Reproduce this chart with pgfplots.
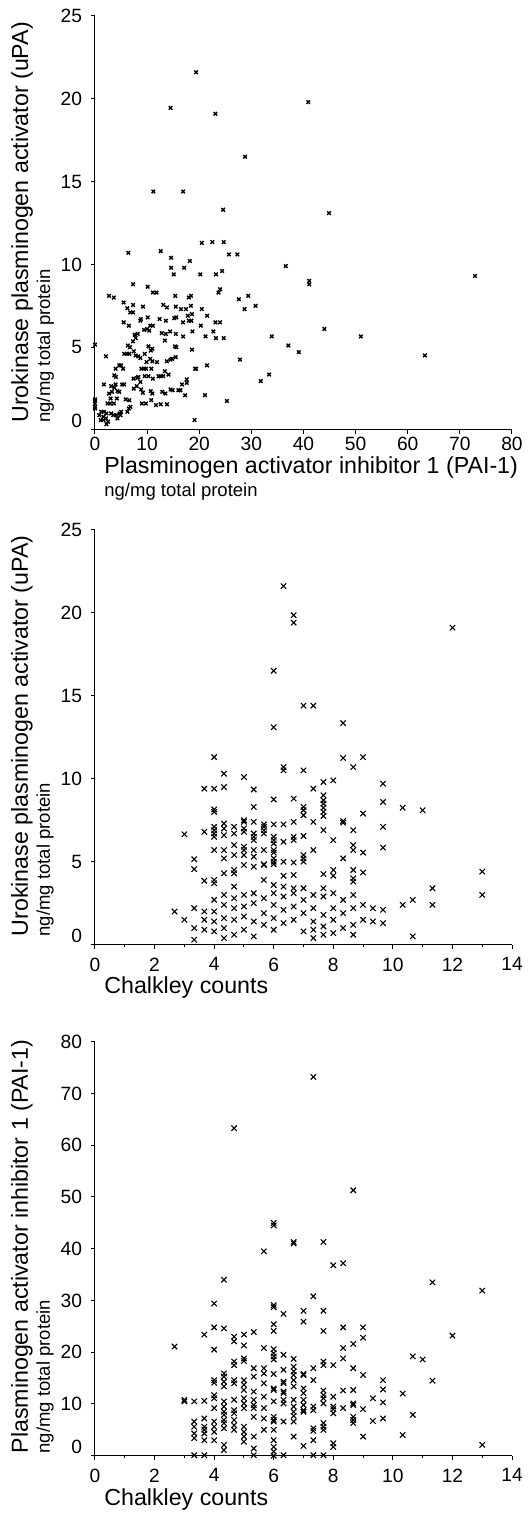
\documentclass[border=0pt]{standalone}
\usepackage{fontspec}
\setmainfont{Liberation Sans}
\usepackage{pgfplots}
\pgfplotsset{compat=1.18}

\newcommand\lblfont{\fontsize{11.6}{13}\selectfont}
\newcommand\subfont{\fontsize{9.25}{11}\selectfont}
\newcommand\tickfont{\fontsize{9.6}{11}\selectfont}
\newcommand\zero{\raisebox{4.5pt}[\height][\depth]{0}}

\pgfplotsset{
  panel/.style={
    scale only axis, width=208.5pt, height=207pt,
    axis x line=bottom, axis y line=left,
    axis line style={-, line width=0.5pt},
    tick align=outside, major tick length=2pt, minor tick length=1.3pt,
    tick style={black, line width=0.5pt},
    clip=false,
    ticklabel style={font=\tickfont},
    xticklabel style={inner sep=1.5pt},
    yticklabel style={inner sep=4.3pt},
    /pgf/number format/assume math mode=true,
  },
  pts/.style={only marks, mark=x, mark size=1.25pt, mark options={line width=0.7pt}, black},
  bigpts/.style={only marks, mark=x, mark size=1.9pt, mark options={line width=0.55pt}, black},
}

\begin{document}
\begin{tikzpicture}
\useasboundingbox (-47.5pt,-541.5pt) rectangle (218pt,215pt);

% ---- panel 1: uPA vs PAI-1
\begin{axis}[panel, at={(0pt,0pt)}, anchor=south west,
  xmin=0, xmax=80, ymin=0, ymax=25,
  xtick={0,10,...,80}, ytick={0,5,...,25},
  yticklabels={\zero,5,10,15,20,25}]
\addplot[pts] coordinates {
(19.4,21.6) (14.5,19.45) (23.1,19.1) (28.8,16.5) (11.2,14.4) (16.9,14.4) (24.6,13.3) (40.9,19.8) (44.9,13.1)
(36.6,9.9) (41.1,9.0) (41.1,8.8) (72.9,9.3) (33.9,5.65) (37.1,5.1) (39.1,4.7) (44.0,6.1) (51.0,5.65) (63.3,4.5) (33.4,3.35) (31.8,2.95)
(20.5,11.3) (22.5,11.35) (24.7,11.35) (25.7,10.6) (27.3,10.6) (6.4,10.7) (12.6,10.8) (14.6,10.4) (14.6,9.8) (15.1,9.4)
(17.1,9.8) (18.2,10.2) (20.2,9.4) (23.2,9.4) (24.4,9.6) (7.3,8.8) (10.1,8.65) (11.1,8.3) (11.8,8.3) (23.7,8.3) (24.0,8.5)
(27.6,7.9) (29.4,8.1) (28.7,7.3) (30.8,7.5) (2.7,8.1) (3.6,8.0) (5.5,7.7) (15.4,8.1) (18.0,8.0) (18.4,8.1)
(6.2,7.35) (7.3,7.55) (7.3,7.1) (6.75,7.1) (9.2,7.45) (13.1,7.55) (13.8,7.4) (15.5,7.45) (16.5,7.3) (17.45,7.3)
(18.4,7.5) (20.5,7.3) (21.5,6.9) (17.8,6.9) (18.6,7.0)
(5.5,6.5) (6.5,6.3) (8.8,6.7) (8.7,6.6) (10.1,6.8) (10.6,6.3) (11.1,6.3) (12.4,6.7) (13.6,6.6) (15.2,6.75) (15.6,6.8)
(16.9,6.5) (18.0,6.6) (18.5,6.6) (20.3,6.3) (23.1,6.5) (24.0,6.5)
(9.4,6.05) (10.0,6.1) (10.4,6.0) (8.2,5.8) (7.6,5.75) (12.8,5.85) (13.6,5.8) (14.4,5.95) (15.5,5.8) (16.9,5.65)
(18.7,5.95) (21.2,5.65) (22.7,5.95) (23.2,5.55) (24.7,5.55)
(7.8,5.55) (7.3,5.35) (6.3,5.1) (6.7,5.0) (10.25,5.05) (10.7,4.8) (11.0,4.9) (13.4,5.4) (15.35,5.05) (15.6,5.0) (18.6,4.85) (7.45,4.75)
(5.6,4.6) (6.1,4.6) (6.6,4.6) (7.8,4.5) (8.3,4.45) (8.7,4.35) (9.55,4.6) (9.9,4.1) (10.6,4.3) (11.0,4.15) (11.9,4.1)
(13.8,4.15) (14.5,4.25) (14.8,4.3) (15.5,4.4) (27.8,4.25) (2.1,4.45)
(4.65,3.9) (5.0,3.9) (3.95,3.7) (5.4,3.7) (8.9,3.7) (9.4,3.7) (9.8,3.7) (10.8,3.7) (13.4,3.55) (19.2,3.7) (19.4,3.7) (21.5,3.9)
(3.7,3.3) (4.0,3.2) (7.4,3.1) (8.1,3.15) (8.3,3.2) (9.55,3.25) (10.25,3.25) (11.1,3.1) (12.2,3.25) (12.6,3.25) (13.1,3.25) (14.1,3.35)
(1.7,2.75) (3.1,2.65) (3.95,2.75) (5.2,2.75) (5.6,2.75) (8.7,2.9) (8.0,2.65) (16.7,2.75) (17.6,3.05) (17.6,2.85)
(3.7,2.55) (4.3,2.35) (4.65,2.3) (2.7,2.2) (3.25,2.3) (7.45,2.5) (8.85,2.45) (9.2,2.25) (10.7,2.35) (11.0,2.2)
(12.9,2.3) (13.5,2.2) (14.5,2.45) (14.9,2.4) (16.0,2.4) (16.4,2.4) (17.3,2.1) (21.1,2.1)
(0,1.85) (0,1.75) (0,1.6) (2.4,1.6) (2.9,1.6) (3.6,1.6) (3.0,1.9) (4.2,1.9) (5.9,1.85) (6.6,1.8) (9.0,1.6) (9.75,1.6)
(10.8,1.8) (11.7,1.5) (12.6,1.55) (13.8,1.55) (25.3,1.75)
(0,1.4) (0,1.3) (1.2,1.1) (1.7,1.1) (0.8,0.9) (1.6,0.8) (2.2,1.0) (2.1,0.7) (3.1,1.0) (3.5,0.9) (4.1,0.9) (4.7,1.0)
(5.0,1.1) (4.9,0.9) (4.3,0.7) (6.5,1.3) (6.8,1.4) (6.2,1.1) (19.1,0.6) (1.1,0.6) (1.6,0.6) (2.2,0.35) (2.5,0.5) (0,5.15)
};
\node[anchor=base west, font=\lblfont, inner sep=0] at ([shift={(4.5pt,-22pt)}]rel axis cs:0,0) {Plasminogen activator inhibitor 1 (PAI-1)};
\node[anchor=base west, font=\subfont, inner sep=0] at ([shift={(4.5pt,-33.5pt)}]rel axis cs:0,0) {ng/mg total protein};
\node[rotate=90, anchor=base west, font=\lblfont, inner sep=0] at ([shift={(-33.5pt,3.5pt)}]rel axis cs:0,0) {Urokinase plasminogen activator (uPA)};
\node[rotate=90, anchor=base west, font=\subfont, inner sep=0] at ([shift={(-22.5pt,3.5pt)}]rel axis cs:0,0) {ng/mg total protein};
\end{axis}

% ---- panel 2: uPA vs Chalkley counts
\begin{axis}[panel, at={(0pt,-257.35pt)}, anchor=south west, height=207.5pt,
  xmin=0, xmax=14, ymin=0, ymax=25,
  xtick={0,2,...,14}, minor x tick num=1, ytick={0,5,...,25},
  yticklabels={\zero,5,10,15,20,25},
  xticklabel style={inner sep=4.3pt}]
\addplot[bigpts] coordinates {
(6.33,21.6) (6.67,19.85) (6.67,19.4) (12,19.1) (6,16.5)
(7,14.4) (7.33,14.4) (6,13.1) (8.33,13.35) (8.33,11.25) (9,11.3) (8.67,10.7) (6.33,10.7) (6.33,10.5) (7,10.5)
(7.33,9.4) (7.67,9.8) (8,9.9) (9.67,9.7) (6,8.75) (6.67,8.8) (7.67,9.0) (9.67,8.6) (10.33,8.25) (11,8.1)
(7,8.3) (7,8.1) (7,7.8) (7.67,8.7) (7.67,8.5) (7.67,8.25) (7.67,8.0) (7.67,7.75) (9,7.9) (8.33,7.45) (8.33,7.35)
(7.33,7.4) (6.67,7.4) (6,7.25) (6.33,7.25) (5.67,7.25) (5.67,6.9) (5.67,6.7) (7.67,6.9) (8.67,6.9) (9.67,7.1)
(7,6.55) (6.67,6.5) (6.67,6.3) (6,6.5) (6,6.3) (6,6.1) (6.33,6.2) (8,6.3) (8.67,6.0) (8.67,5.7) (7.33,5.7) (9,5.55)
(9.67,5.85) (5.67,5.7) (6,5.7) (6,5.55) (6,5.2) (6,5.0) (6,4.85) (6.33,5.0) (6.67,4.95) (7,5.4) (7,5.2) (7,5.0)
(8.33,5.2) (5.67,4.85) (7.67,4.25) (8,4.5) (8,4.15) (8.67,4.5) (8.67,4.0) (8.67,3.8) (9,4.35) (6.33,4.15) (6.67,4.2)
(6,3.6) (6.33,3.5) (6.67,3.4) (7,3.4) (7.67,3.4) (5.67,3.9) (13,4.4) (11.33,3.4)
(4,11.3) (4.33,10.3) (5,10.1) (3.67,9.4) (4,9.4) (4.33,9.5) (5.33,9.35) (4,8.15) (4,8.0) (5.33,8.3) (3,6.65) (3.67,6.8)
(4,7.1) (4,6.9) (4,6.7) (4,6.5) (4.33,7.3) (4.33,7.0) (4.33,6.6) (4.67,7.1) (4.67,6.7) (5,7.5) (5,7.4) (5,7.0) (5,6.8)
(5.33,7.4) (5.33,6.7) (5.33,6.5) (5.33,6.3) (5.67,7.1)
(4,5.7) (4.33,5.7) (4.33,5.2) (4.33,4.3) (4.67,6.0) (4.67,5.4) (4.67,4.5) (4.67,4.3) (5,5.9) (5,5.7) (5,5.4) (5,4.8)
(5.33,5.7) (5.33,5.3) (5.33,4.7) (5.67,4.8) (3.33,5.15) (3.33,4.55) (3.67,3.85) (4,3.9) (4,3.7) (4.67,3.5)
(2.67,2.0) (3,1.5) (3.33,2.2) (3.33,1.0) (3.33,0.3) (3.67,2.0) (3.67,1.5) (3.67,0.9) (4,2.7) (4,2.0) (4,1.4) (4,0.8)
(4.33,3.0) (4.33,2.4) (4.33,1.6) (4.33,1.0) (4.33,0.4) (4.67,2.8) (4.67,2.2) (4.67,1.5) (4.67,0.6) (5,3.0) (5,2.3)
(5,1.7) (5,0.9) (5.33,3.1) (5.33,2.5) (5.33,1.4) (5.33,0.5) (5.67,2.8) (5.67,1.9) (5.67,1.2) (6,3.1) (6,2.4) (6,1.6)
(6,0.9) (6.33,2.9) (6.33,2.1) (6.33,1.3) (6.67,3.1) (6.67,2.3) (6.67,1.5) (7,2.7) (7,1.9) (7,0.8) (7.33,3.0) (7.33,2.2)
(7.33,1.4) (7.33,0.9) (7.33,0.4) (7.67,2.9) (7.67,1.8) (7.67,1.1) (7.67,0.6) (8,3.1) (8,2.2) (8,1.5) (8,0.7) (8.33,2.7)
(8.33,1.9) (8.33,1.0) (8.67,3.0) (8.67,2.2) (8.67,1.2) (8.67,0.6) (9,2.4) (9,1.5) (9.33,2.2) (9.33,1.4) (9.67,2.1)
(9.67,1.3) (10.33,2.4) (10.67,2.7) (10.67,0.5) (11.33,2.4) (13,3.0)
};
\node[anchor=base west, font=\lblfont, inner sep=0] at ([shift={(4.5pt,-24.5pt)}]rel axis cs:0,0) {Chalkley counts};
\node[rotate=90, anchor=base west, font=\lblfont, inner sep=0] at ([shift={(-33.5pt,4pt)}]rel axis cs:0,0) {Urokinase plasminogen activator (uPA)};
\node[rotate=90, anchor=base west, font=\subfont, inner sep=0] at ([shift={(-22.5pt,4pt)}]rel axis cs:0,0) {ng/mg total protein};
\end{axis}

% ---- panel 3: PAI-1 vs Chalkley counts
\begin{axis}[panel, at={(0pt,-512.85pt)}, anchor=south west,
  xmin=0, xmax=14, ymin=0, ymax=80,
  xtick={0,2,...,14}, minor x tick num=1, ytick={0,10,...,80},
  yticklabels={\zero,10,20,30,40,50,60,70,80},
  xticklabel style={inner sep=4.3pt}]
\addplot[bigpts] coordinates {
(4.67,63.3) (7.33,73.2) (8.67,51.3)
(5.67,39.5) (4.33,34.0) (4,29.4) (4,24.8) (4.33,24.6) (3.67,23.4) (4.67,23.0) (4.67,22.1) (5,23.4) (5,21.3) (5.33,23.9)
(2.67,21.1) (4,20.5) (5.67,20.8) (4.67,18.2) (4.67,17.5) (5,18.8) (5,18.3) (5.33,16.9) (5.33,15.3) (5.67,16.9) (5.67,15.9)
(5.67,14.0) (4,14.6) (4,14.1) (4.33,15.9) (4.33,15.3) (4.33,14.3) (4.33,13.4) (4.67,14.6) (4.67,14.0) (5,14.6) (5,13.7)
(5,12.7) (5.33,12.4) (5.33,10.8) (5.33,9.8) (3,10.8) (3,10.5) (3.33,10.5) (3.67,10.6) (4,11.7) (4,11.1) (4,9.2)
(4.33,10.5) (4.33,9.5) (4.33,8.5) (4.33,7.9) (4.33,6.9) (4.67,10.8) (4.67,8.8) (4.67,8.2) (4.67,6.9) (4.67,5.9) (4.67,5.0)
(5,11.1) (5,10.1) (5,9.2) (5.33,9.2) (5.33,7.5) (5.67,11.4) (5.67,9.2) (5.67,7.2) (3.33,6.6) (3.33,5.6) (3.33,4.3) (3.33,3.4)
(3.67,7.2) (3.67,5.6) (3.67,5.0) (3.67,4.3) (4,6.6) (4,5.6) (4,4.6) (4.33,6.3) (4.33,5.3) (5,5.6) (5,4.6) (5,3.7) (5,2.7)
(5.33,3.7) (5.33,1.4) (5.33,0.1) (5.67,5.0) (3.67,3.0) (4,3.0) (4.33,2.1) (4.33,1.1) (3.33,0.1) (3.67,0.1)
(6,45.0) (6,44.5) (6.67,41.3) (6.67,41.0) (7.67,41.3) (8,36.8) (8.33,37.2) (11.33,33.5) (13,31.9) (7.33,30.8) (6,29.1) (6,28.7)
(6.33,27.4) (7,28.0) (7,25.9) (7.67,28.0) (7.67,24.1) (8.33,24.8) (9,24.8) (9,22.8) (12,23.2) (6,25.4) (6,24.1)
(6,20.6) (6,19.8) (6,19.2) (6,18.6) (6.33,19.5) (6.67,18.7) (6.67,17.2) (6.67,16.3) (7,15.8) (7.33,16.9) (7.33,14.6)
(7.67,18.2) (7.67,17.5) (8,17.5) (8.33,20.8) (8.33,18.8) (8.67,21.6) (8.67,16.9) (9,15.6) (9.67,14.6) (9.67,12.8)
(9.67,10.3) (9.67,7.2) (10.67,19.2) (11,18.6) (11.33,14.5) (10.33,12.0) (10.67,7.9) (10.33,4.0) (13,2.1) (9.33,11.1)
(9,9.0) (9.33,6.7)
(6,15.8) (6,13.0) (6,12.7) (6,10.5) (6,7.5) (6,6.9) (6,6.6) (6,5.0) (6,3.0) (6,1.7) (6,0.8) (6,0)
(6.33,16.6) (6.33,14.3) (6.33,14.0) (6.33,12.4) (6.33,12.1) (6.33,10.8) (6.33,10.1) (6.33,6.6) (6.33,0.1)
(6.67,15.6) (6.67,14.6) (6.67,13.4) (6.67,10.8) (6.67,9.5) (6.67,8.5) (6.67,7.7) (6.67,6.6) (6.67,3.7)
(7,15.6) (7,13.0) (7,12.1) (7,10.8) (7,9.8) (7,8.8) (7,8.5) (7,1.9)
(7.33,9.5) (7.33,8.8) (7.33,5.3) (7.33,4.8) (7.33,3.0) (7.33,0.1)
(7.67,12.6) (7.67,11.7) (7.67,11.1) (7.67,10.1) (7.67,6.3) (7.67,5.6) (7.67,5.0) (7.67,0.1)
(8,11.4) (8,9.5) (8,9.0) (8,8.2) (8,2.4) (8,1.7) (8.33,12.6) (8.33,9.2)
(8.67,12.7) (8.67,10.1) (8.67,9.8) (8.67,7.5) (8.67,6.9) (8.67,6.3) (9,3.7)
};
\node[anchor=base west, font=\lblfont, inner sep=0] at ([shift={(4.5pt,-25pt)}]rel axis cs:0,0) {Chalkley counts};
\node[rotate=90, anchor=base west, font=\lblfont, inner sep=0] at ([shift={(-33.5pt,1pt)}]rel axis cs:0,0) {Plasminogen activator inhibitor 1 (PAI-1)};
\node[rotate=90, anchor=base west, font=\subfont, inner sep=0] at ([shift={(-22.5pt,1pt)}]rel axis cs:0,0) {ng/mg total protein};
\end{axis}
\end{tikzpicture}
\end{document}
